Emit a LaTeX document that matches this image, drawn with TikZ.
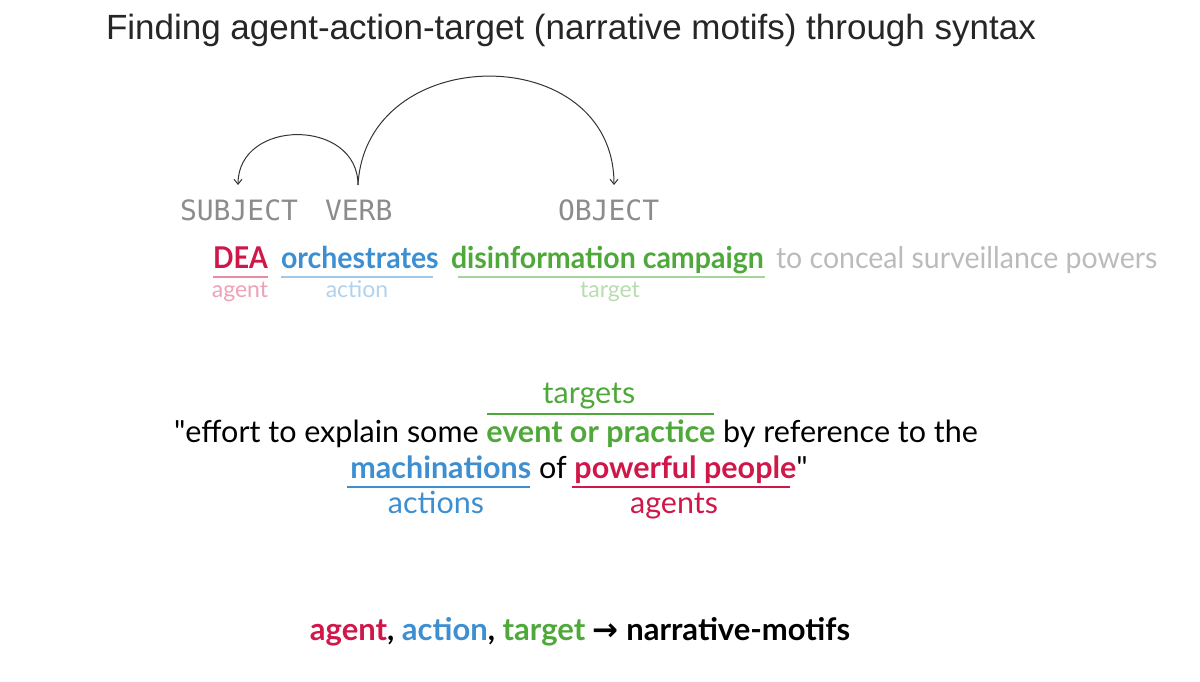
\documentclass[tikz,border=0pt]{standalone}
\usetikzlibrary{arrows.meta}
\usepackage{graphicx}
\usepackage{fontspec}
\setmainfont{Lato}
\newfontfamily\titlefont{Liberation Sans}
\newfontfamily\monofont{DejaVu Sans Mono}
\newfontfamily\arrfont{DejaVu Sans}
\definecolor{cred}{HTML}{D0174A}
\definecolor{cblue}{HTML}{3D8FD1}
\definecolor{cgreen}{HTML}{4EA83A}
\definecolor{cgray}{HTML}{BBBBBB}
\begin{document}
\begin{tikzpicture}[x=1pt,y=-1pt,
  every node/.style={inner sep=0pt,outer sep=0pt},
  w/.style={anchor=base west},
  arc/.style={draw=black!80,line width=1pt,-{Straight Barb[length=5pt,width=8pt]}},
  ul/.style={line width=2.2pt},
  ulp/.style={line width=1.5pt},
  big/.style={font=\fontsize{30.5}{34}\selectfont},
  mono/.style={w,font=\monofont\fontsize{28}{32}\selectfont,text=black!45},
  s1/.style={w,font=\fontsize{30}{34}\selectfont},
  lab/.style={anchor=base,font=\fontsize{23}{26}\selectfont\fontseries{l}\selectfont}]
\useasboundingbox (0,0) rectangle (1200,682);
\node[w,font=\titlefont\fontsize{35}{40}\selectfont,text=black!85] (title) at (106,40) {Finding agent-action-target (narrative motifs) through syntax};
% syntax labels
\node[mono] (subj) at (180,220) {SUBJECT};
\node[mono] (verb) at (325,220) {VERB};
\node[mono] (obj) at (558,220) {OBJECT};
\coordinate (vs) at (358,185);
\coordinate (se) at (238,185);
\coordinate (oe) at (614,185);
\draw[arc] (vs) .. controls (358,118) and (238,118) .. (se);
\draw[arc] (vs) .. controls (366,40) and (614,40) .. (oe);
% sentence
\node[s1,text=cred] (dea) at (213,268) {\scalebox{0.9}[1]{\bfseries DEA}};
\node[s1,text=cblue] (orch) at (281,268) {\scalebox{0.95}[1]{\bfseries orchestrates}};
\node[s1,text=cgreen] (dis) at (451,268) {\scalebox{0.95}[1]{\bfseries disinformation campaign}};
\node[s1,text=cgray] (rest) at (776,268) {\scalebox{0.95}[1]{\fontseries{l}\selectfont to conceal surveillance powers}};
\draw[ulp,draw=cred!50] (213,277) -- (268,277);
\draw[ulp,draw=cblue!50] (281,277) -- (433,277);
\draw[ulp,draw=cgreen!50] (458,277) -- (765,277);
\node[lab,text=cred!40] (ag) at (240,297) {agent};
\node[lab,text=cblue!40] (ac) at (357,297) {action};
\node[lab,text=cgreen!40] (tg) at (610,297) {target};
% quote
\node[anchor=base,text=cgreen,big] (targets) at (589,403) {targets};
\draw[ul,cgreen] (487,414) -- (714,414);
\node[anchor=base,big] (q1) at (576,442) {\textquotedbl effort to explain some \textcolor{cgreen}{\bfseries event or practice} by reference to the};
\node[anchor=base,big] (q2) at (579,478) {\textcolor{cblue}{\bfseries machinations} of \textcolor{cred}{\bfseries powerful people}\textquotedbl};
\draw[ul,cblue] (347,487) -- (530,487);
\draw[ul,cred] (572,487) -- (790,487);
\node[anchor=base,text=cblue,big] (acts) at (436,513) {actions};
\node[anchor=base,text=cred,big] (agts) at (674,513) {agents};
% bottom
\node[anchor=base,font=\fontsize{31}{35}\selectfont] (bot) at (580,640) {\bfseries\textcolor{cred}{agent}, \textcolor{cblue}{action}, \textcolor{cgreen}{target} {\arrfont →} narrative-motifs};
\end{tikzpicture}
\end{document}
